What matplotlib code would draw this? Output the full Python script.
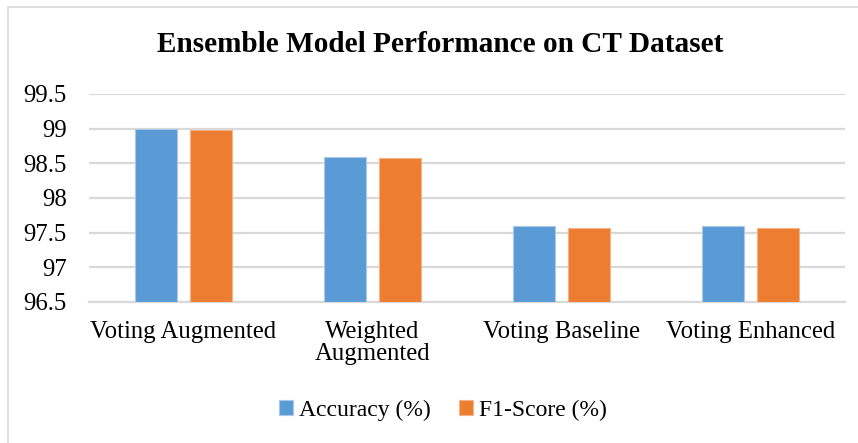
import matplotlib
matplotlib.use("Agg")
import matplotlib.pyplot as plt
import numpy as np
from matplotlib.patches import Rectangle

categories = ["Voting Augmented", "Weighted\nAugmented", "Voting Baseline", "Voting Enhanced"]
accuracy = [98.99, 98.59, 97.60, 97.60]
f1_score = [98.98, 98.58, 97.57, 97.57]
yticks = [96.5, 97, 97.5, 98, 98.5, 99, 99.5]
ytick_labels = ["96.5", "97", "97.5", "98", "98.5", "99", "99.5"]

plt.rcParams['font.family'] = ['Liberation Serif', 'DejaVu Serif']

W, H = 858, 443
fig = plt.figure(figsize=(W/100, H/100), dpi=100)
ax = fig.add_axes([89/W, 1-302/H, (845-89)/W, (302-94)/H])

x = np.arange(len(categories))
bw = 0.222
off = 0.143
ax.bar(x - off, np.array(accuracy) - 96.5, bw, bottom=96.5, color="#5B9BD5", edgecolor="#A9C8EA", linewidth=0.8, label="Accuracy (%)", zorder=3)
ax.bar(x + off, np.array(f1_score) - 96.5, bw, bottom=96.5, color="#ED7D31", edgecolor="#F5B38A", linewidth=0.8, label="F1-Score (%)", zorder=3)

ax.set_xlim(-0.5, len(categories) - 0.5)
ax.set_ylim(96.5, 99.5)
ax.set_yticks(yticks)
ax.set_yticklabels(ytick_labels, fontsize=17.8)
ax.set_xticks(x)
ax.set_xticklabels(categories, fontsize=17.8, linespacing=1.0)
ax.tick_params(axis='both', length=0)
ax.tick_params(axis='x', pad=14)
ax.tick_params(axis='y', pad=16)
ax.grid(axis='y', color="#D9D9D9", linewidth=1.6, zorder=0)
for s in ["top", "right", "left"]:
    ax.spines[s].set_visible(False)
ax.spines["bottom"].set_color("#D9D9D9")
ax.spines["bottom"].set_linewidth(1.6)

fig.text(440/W, 1-44/H, "Ensemble Model Performance on CT Dataset", ha="center", va="center",
         fontsize=21.1, fontweight="bold")

leg = fig.legend(loc="center", bbox_to_anchor=(443/W, 1-410/H), ncol=2, frameon=False,
                 fontsize=17.0, handlelength=0.6, handleheight=0.6, handletextpad=0.25, columnspacing=1.2)

fig.patches.append(Rectangle((8/W, -0.1), 1, 1.1-7/H, transform=fig.transFigure, fill=False,
                             edgecolor="#D9D9D9", linewidth=1.2))

fig.savefig("out.png", dpi=100)
